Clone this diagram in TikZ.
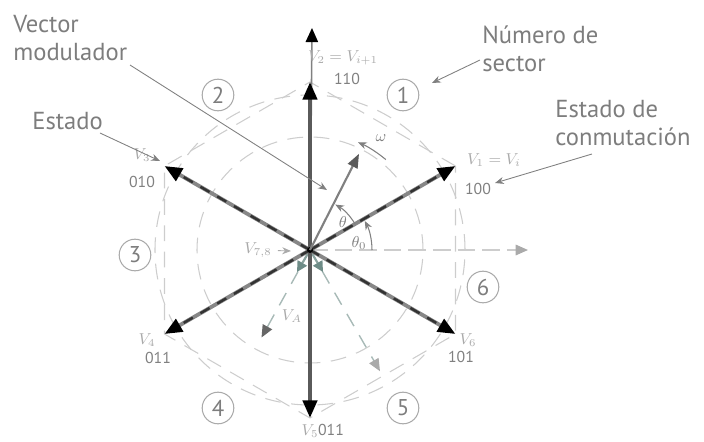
\documentclass[tikz,border=0pt]{standalone}
\usepackage{fontspec}
\setsansfont{PT Sans}
\usetikzlibrary{arrows.meta}

\definecolor{txtgray}{RGB}{125,125,125}
\definecolor{lblgray}{RGB}{170,170,170}
\definecolor{dashgray}{RGB}{205,205,205}
\definecolor{vecgray}{RGB}{90,90,90}
\definecolor{diaggray}{RGB}{135,135,135}
\definecolor{zerogray}{RGB}{110,140,135}

\tikzset{
  mainvec/.style={line width=2.2pt, draw=vecgray, -{Triangle[length=10pt,width=8pt,color=black]}},
  vecdash/.style={line width=1.4pt, draw=black!80, dash pattern=on 6pt off 5pt, shorten >=10pt},
  guide/.style={draw=dashgray, line width=0.6pt, dash pattern=on 9pt off 6pt},
  axisline/.style={draw=gray, line width=0.9pt, -{Triangle[length=8pt,width=7pt,color=black]}},
  xaxisline/.style={draw=dashgray, line width=0.8pt, dash pattern=on 10pt off 4pt, -{Triangle[length=7pt,width=6pt,color=lblgray]}},
  subvec/.style={draw=zerogray!60, line width=0.8pt, dash pattern=on 8pt off 6pt, -{Triangle[length=7pt,width=6pt,color=lblgray]}},
  zerovec/.style={draw=zerogray!80, line width=1.2pt, -{Triangle[length=6pt,width=6pt,color=zerogray]}},
  refvec/.style={draw=gray, line width=1.2pt, -{Triangle[length=8pt,width=6pt,color=vecgray]}},
  anglearc/.style={draw=gray, line width=0.6pt, -{Stealth[length=5pt,width=4pt]}},
  sector/.style={circle, draw=lblgray, line width=0.6pt, minimum size=18pt, inner sep=0pt, text=txtgray, font=\sffamily\fontsize{13}{13}\selectfont},
  callout/.style={align=left, inner sep=0pt, text=txtgray, font=\sffamily\fontsize{14}{16}\selectfont},
  leader/.style={draw=gray, line width=0.5pt, -{Stealth[length=5pt,width=4pt]}},
  vlabel/.style={text=lblgray, font=\small},
  anglbl/.style={text=gray, font=\small},
  swstate/.style={text=gray, font=\sffamily\fontsize{9}{9}\selectfont},
}

\begin{document}
\begin{tikzpicture}[x=0.02cm, y=0.02cm]

% page size of the reference
\useasboundingbox (-310,-191) rectangle (394,250);

% Space vector tips
\def\vlen{168}
\coordinate (O) at (0,0);
\coordinate (v1) at (30:\vlen);
\coordinate (v2) at (90:\vlen);
\coordinate (v3) at (150:\vlen);
\coordinate (v4) at (210:\vlen);
\coordinate (v5) at (270:\vlen);
\coordinate (v6) at (330:\vlen);

% Guide circles and hexagon
\draw[guide] (O) circle (155);
\draw[guide] (O) circle (113);
\draw[guide] (v1) -- (v2) -- (v3) -- (v4) -- (v5) -- (v6) -- cycle;

% Axes
\coordinate (xend) at (218,0);
\coordinate (ytop) at (2,222);
\draw[xaxisline] (O) -- (xend);
\draw[axisline] (O) -- (ytop);

% Dashed sub vectors
\coordinate (va) at (-119:100);
\coordinate (vb) at (-60:140);
\draw[subvec, -{Triangle[length=7pt,width=6pt,color=gray!80!black]}] (O) -- (va);
\draw[subvec] (O) -- (vb);
\node[vlabel] (lva) at (-18,-66) {$V_A$};

% Zero vectors at the origin
\coordinate (z1) at (-13,-22);
\coordinate (z2) at (13,-22);
\draw[zerovec] (O) -- (z1);
\draw[zerovec] (O) -- (z2);

% Active vectors
\draw[mainvec] (O) -- (v2);
\draw[mainvec] (O) -- (v5);
\foreach \v in {v1,v3,v4,v6} {
  \draw[mainvec, draw=diaggray] (O) -- (\v);
  \draw[vecdash] (O) -- (\v);
}
\fill[black] (O) circle (3);

% Modulating vector and angles
\coordinate (vref) at (63:108);
\draw[refvec] (O) -- (vref);
\draw[anglearc] (0:62) arc[start angle=0, end angle=28, radius=62];
\draw[anglearc] (30:52) arc[start angle=30, end angle=61, radius=52];
\draw[anglearc] (50:118) arc[start angle=50, end angle=66, radius=118];
\node[anglbl] (th) at (33,28) {$\theta$};
\node[anglbl] (th0) at (49,7) {$\theta_0$};
\node[anglbl] (om) at (71,112) {$\omega$};

% Zero vector label
\node[vlabel] (v78) at (-52,0) {$V_{7,8}$};
\coordinate (v78to) at (-19,-1);
\draw[leader, draw=lblgray] (v78) -- (v78to);

% Vector labels and switching states
\node[vlabel] (l2) at (33,192) {$V_2 = V_{i+1}$};
\node[swstate] (s2) at (37,171) {110};
\node[vlabel] (l1) at (184,90) {$V_1 = V_i$};
\node[swstate] (s1) at (168,61) {100};
\node[vlabel] (l3) at (-168,95) {$V_3$};
\node[swstate] (s3) at (-168,68) {010};
\node[vlabel] (l4) at (-163,-90) {$V_4$};
\node[swstate] (s4) at (-152,-108) {011};
\node[vlabel] (l6) at (158,-90) {$V_6$};
\node[swstate] (s6) at (151,-107) {101};
\node[vlabel] (l5) at (0,-181) {$V_5$};
\node[swstate] (s5) at (21,-180) {011};

% Sector numbers
\node[sector] (sec1) at (93,155) {1};
\node[sector] (sec2) at (-92,155) {2};
\node[sector] (sec3) at (-175,-5) {3};
\node[sector] (sec4) at (-92,-158) {4};
\node[sector] (sec5) at (93,-158) {5};
\node[sector] (sec6) at (173,-37) {6};

% Callouts
\node[callout, anchor=north west] (cvm) at (-297,235) {Vector\\modulador};
\node[callout, anchor=north west] (cest) at (-278,138) {Estado};
\node[callout, anchor=north west] (cns) at (172,225) {Número de\\sector};
\node[callout, anchor=north west] (cec) at (245,150) {Estado de\\conmutación};

\coordinate (vmfrom) at (-180,185);
\coordinate (vmto) at (17,60);
\coordinate (estfrom) at (-210,117);
\coordinate (estto) at (-150,89);
\coordinate (nsfrom) at (170,190);
\coordinate (nsto) at (122,167);
\coordinate (ecfrom) at (282,96);
\coordinate (ecto) at (185,67);
\draw[leader] (vmfrom) -- (vmto);
\draw[leader] (estfrom) -- (estto);
\draw[leader] (nsfrom) -- (nsto);
\draw[leader] (ecfrom) -- (ecto);

\end{tikzpicture}
\end{document}
